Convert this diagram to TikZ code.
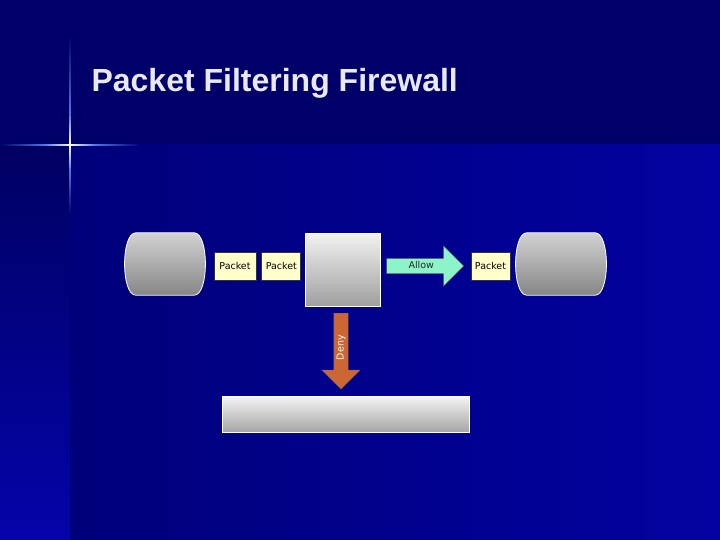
\documentclass[tikz,border=0pt]{standalone}
\usepackage{fontspec}
\setmainfont{Liberation Sans}
\newfontfamily\smallfont{DejaVu Sans}
\usepackage{tikz}
\usetikzlibrary{positioning,shapes.misc,shapes.arrows}
\definecolor{topnavy}{RGB}{0,0,104}
\definecolor{lownavy}{RGB}{0,0,122}
\definecolor{lowblue}{RGB}{2,2,160}
\definecolor{stripdark}{RGB}{0,0,98}
\definecolor{stripblue}{RGB}{4,4,170}
\definecolor{flare}{RGB}{80,120,235}
\definecolor{titlecol}{RGB}{232,232,246}
\definecolor{packetfill}{RGB}{255,255,204}
\definecolor{allowfill}{RGB}{140,244,200}
\definecolor{denyfill}{RGB}{204,102,51}

\begin{document}
\begin{tikzpicture}[
x=1pt, y=-1pt,
font=\smallfont\fontsize{9.5}{11}\selectfont,
barrelspot/.style={rectangle, minimum height=62pt, inner sep=0pt},
barrelshade/.style={draw=white, line width=0.8pt, top color=gray!35, bottom color=gray!105!black},
packetbox/.style={draw=black!80, line width=0.9pt, fill=packetfill, minimum height=28pt, inner sep=0pt},
wallbox/.style={draw=white, line width=0.8pt, top color=gray!10, bottom color=gray!75, minimum width=75pt, minimum height=73pt},
logbox/.style={draw=white, line width=0.8pt, top color=gray!8, middle color=gray!20, bottom color=gray!70, minimum width=247pt, minimum height=36pt},
allowarrow/.style={single arrow, draw=black!70, fill=allowfill, single arrow head extend=12.5pt,
  minimum height=77pt, inner sep=4pt, text height=6pt, text depth=1pt, text=black!85},
denyarrow/.style={single arrow, draw=black!60, fill=denyfill, single arrow head extend=12pt,
  minimum height=76pt, inner sep=3.5pt, text height=6pt, text depth=1pt, text=white}
]
    \useasboundingbox (0,0) rectangle (720,540);
    % Draw background
    \fill [topnavy] (0,0) rectangle (720,145);
    \shade [left color=lownavy, right color=lowblue] (70,145) rectangle (720,540);
    \shade [top color=stripdark, bottom color=stripblue] (0,145) rectangle (70,540);
    % Draw flare
    \shade [left color=topnavy, right color=flare] (0,144.3) rectangle (45,145.7);
    \shade [left color=flare, right color=white] (45,144.3) rectangle (70,145.7);
    \shade [left color=white, right color=flare] (70,144.3) rectangle (95,145.7);
    \shade [left color=flare, right color=lownavy] (95,144.3) rectangle (140,145.7);
    \shade [top color=topnavy, bottom color=flare] (69.3,35) rectangle (70.7,115);
    \shade [top color=flare, bottom color=white] (69.3,115) rectangle (70.7,145);
    \shade [top color=white, bottom color=flare] (69.3,145) rectangle (70.7,170);
    \shade [top color=flare, bottom color=stripdark] (69.3,170) rectangle (70.7,215);

    \node [anchor=base west, text=titlecol, font=\bfseries\fontsize{32}{38}\selectfont] (title) at (88,92) {Packet Filtering Firewall};

    % Draw nodes
    \node [barrelspot, minimum width=80pt] (net) at (165,264) {};
    \node [packetbox, minimum width=42pt] (p1) at (235,266) {Packet};
    \node [packetbox, minimum width=39pt, right=5pt of p1] (p2) {Packet};
    \node [wallbox] (wall) at (342.5,269.5) {};
    \node [allowarrow, anchor=tail] (allow) at ([xshift=6pt]wall.east |- p1.center) {Allow};
    \node [packetbox, minimum width=39pt] (p3) at (490.5,266) {Packet};
    \node [barrelspot, minimum width=90pt] (host) at (561,264) {};
    \node [denyarrow, rotate=90, shape border rotate=180, anchor=tail] (deny) at ([xshift=-1.5pt]wall.south |- 0,313) {Deny};
    \node [logbox] (log) at (345.5,414) {};

    % Draw barrels
    \foreach \b in {net,host}
    \shade [barrelshade] ([xshift=11pt]\b.north west) -- ([xshift=-11pt]\b.north east)
        .. controls ([xshift=4pt]\b.north east) and ([xshift=4pt]\b.south east) .. ([xshift=-11pt]\b.south east)
        -- ([xshift=11pt]\b.south west)
        .. controls ([xshift=-4pt]\b.south west) and ([xshift=-4pt]\b.north west) .. cycle;
\end{tikzpicture}
\end{document}
